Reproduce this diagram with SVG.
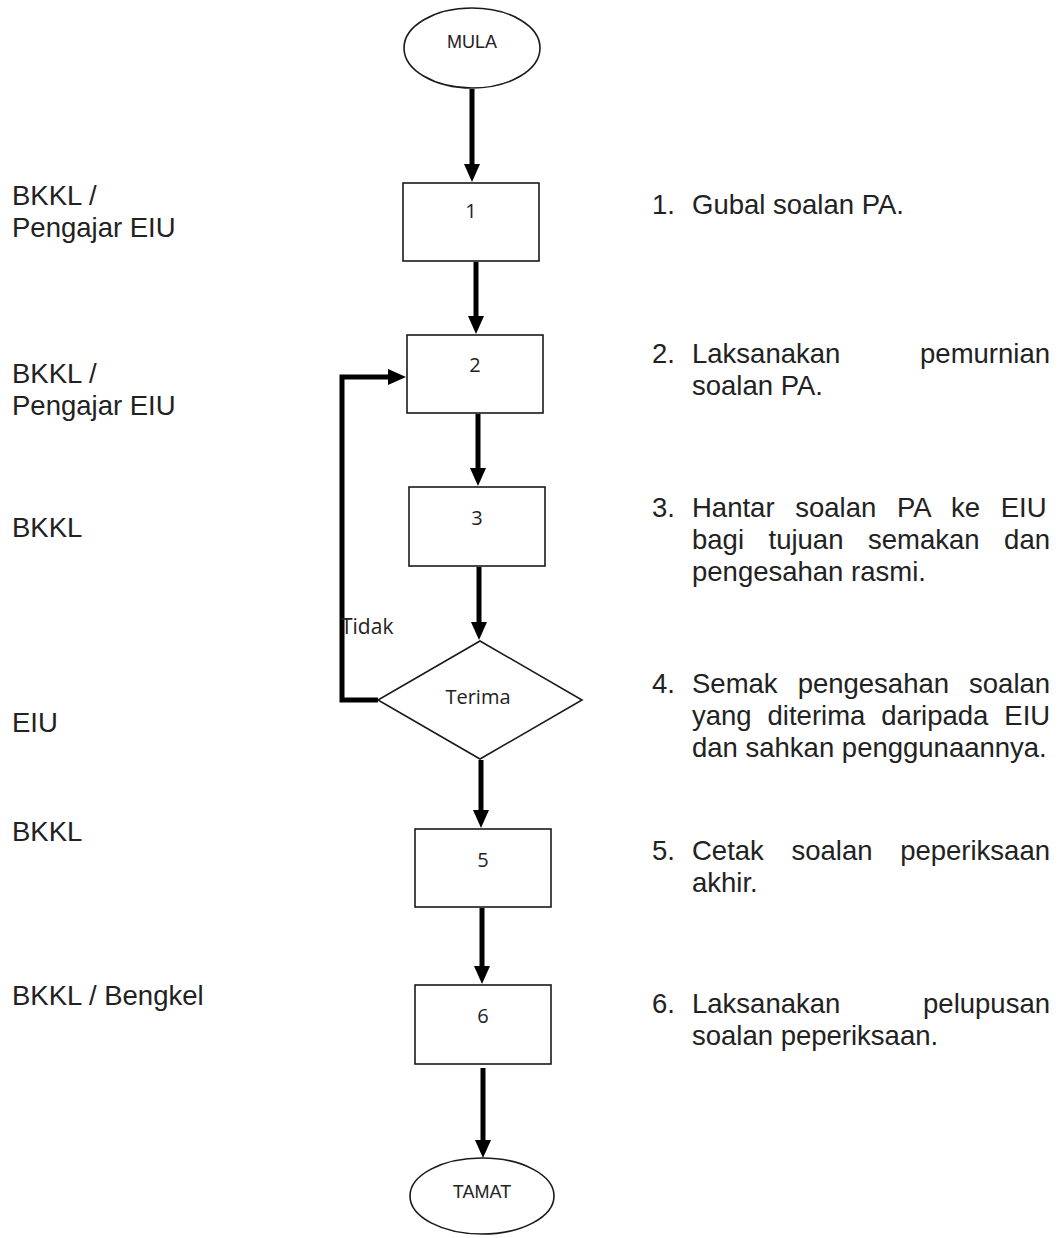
<svg xmlns="http://www.w3.org/2000/svg" width="1058" height="1238" viewBox="0 0 1058 1238">
  <style>
    .shape { fill: #ffffff; stroke: #1a1a1a; stroke-width: 1.6; }
    .term { font-family: "Liberation Sans", Arial, sans-serif; font-size: 18px; fill: #222; text-anchor: middle; }
    .num { font-family: "Open Sans", "Noto Sans", sans-serif; font-size: 20px; fill: #222; text-anchor: middle; }
    .lbl { font-family: "Open Sans", "Noto Sans", sans-serif; font-size: 21px; fill: #222; }
    .txt { font-family: "Liberation Sans", Arial, sans-serif; font-size: 27.5px; fill: #222; }
    .end { text-anchor: end; }
    .conn { fill: none; stroke: #000; stroke-width: 5; stroke-linejoin: miter; }
  </style>
  <defs>
    <marker id="arrow" viewBox="0 0 18 16" refX="0" refY="8" markerWidth="18" markerHeight="16" markerUnits="userSpaceOnUse" orient="auto">
      <path d="M0,0 L18,8 L0,16 z" fill="#000"/>
    </marker>
  </defs>

  <!-- connectors -->
  <g id="connectors">
    <path class="conn" d="M472,89 V164" marker-end="url(#arrow)"/>
    <path class="conn" d="M476,262 V316" marker-end="url(#arrow)"/>
    <path class="conn" d="M478,414 V468" marker-end="url(#arrow)"/>
    <path class="conn" d="M479,567 V622" marker-end="url(#arrow)"/>
    <path class="conn" d="M378,700 H342 V377 H388" marker-end="url(#arrow)"/>
    <path class="conn" d="M481,760 V810" marker-end="url(#arrow)"/>
    <path class="conn" d="M482,908 V966" marker-end="url(#arrow)"/>
    <path class="conn" d="M483,1068 V1140" marker-end="url(#arrow)"/>
    <text class="lbl" x="341" y="634">Tidak</text>
  </g>

  <!-- flow nodes -->
  <g id="mula">
    <ellipse class="shape" cx="472" cy="48" rx="68" ry="40"/>
    <text class="term" x="472" y="48">MULA</text>
  </g>
  <g id="step1">
    <rect class="shape" x="403" y="183" width="136" height="78"/>
    <text class="num" x="471" y="218">1</text>
  </g>
  <g id="step2">
    <rect class="shape" x="407" y="335" width="136" height="78"/>
    <text class="num" x="475" y="372">2</text>
  </g>
  <g id="step3">
    <rect class="shape" x="409" y="487" width="136" height="79"/>
    <text class="num" x="477" y="525">3</text>
  </g>
  <g id="decision">
    <polygon class="shape" points="480,641 582,700 480,759 378,700"/>
    <text class="num" x="478" y="704">Terima</text>
  </g>
  <g id="step5">
    <rect class="shape" x="415" y="829" width="136" height="78"/>
    <text class="num" x="483" y="867">5</text>
  </g>
  <g id="step6">
    <rect class="shape" x="415" y="985" width="136" height="79"/>
    <text class="num" x="483" y="1023">6</text>
  </g>
  <g id="tamat">
    <ellipse class="shape" cx="482" cy="1196" rx="72" ry="38"/>
    <text class="term" x="482" y="1198">TAMAT</text>
  </g>

  <!-- responsible parties -->
  <g id="roles" class="txt">
    <text x="12" y="205">BKKL /</text>
    <text x="12" y="237">Pengajar EIU</text>
    <text x="12" y="383">BKKL /</text>
    <text x="12" y="415">Pengajar EIU</text>
    <text x="12" y="537">BKKL</text>
    <text x="12" y="732">EIU</text>
    <text x="12" y="841">BKKL</text>
    <text x="12" y="1005">BKKL / Bengkel</text>
  </g>

  <!-- step descriptions -->
  <g id="desc1" class="txt">
    <text x="652" y="214">1.</text>
    <text x="692" y="214">Gubal soalan PA.</text>
  </g>
  <g id="desc2" class="txt">
    <text x="652" y="363">2.</text>
    <text x="692" y="363">Laksanakan</text>
    <text class="end" x="1050" y="363">pemurnian</text>
    <text x="692" y="395">soalan PA.</text>
  </g>
  <g id="desc3" class="txt">
    <text x="652" y="517">3.</text>
    <text x="692" y="517" word-spacing="13.1">Hantar soalan PA ke EIU</text>
    <text x="692" y="549" word-spacing="16.9">bagi tujuan semakan dan</text>
    <text x="692" y="581">pengesahan rasmi.</text>
  </g>
  <g id="desc4" class="txt">
    <text x="652" y="693">4.</text>
    <text x="692" y="693" word-spacing="12.4">Semak pengesahan soalan</text>
    <text x="692" y="725" word-spacing="8.3">yang diterima daripada EIU</text>
    <text x="692" y="757">dan sahkan penggunaannya.</text>
  </g>
  <g id="desc5" class="txt">
    <text x="652" y="860">5.</text>
    <text x="692" y="860" word-spacing="20">Cetak soalan peperiksaan</text>
    <text x="692" y="892">akhir.</text>
  </g>
  <g id="desc6" class="txt">
    <text x="652" y="1013">6.</text>
    <text x="692" y="1013">Laksanakan</text>
    <text class="end" x="1050" y="1013">pelupusan</text>
    <text x="692" y="1045">soalan peperiksaan.</text>
  </g>
</svg>
